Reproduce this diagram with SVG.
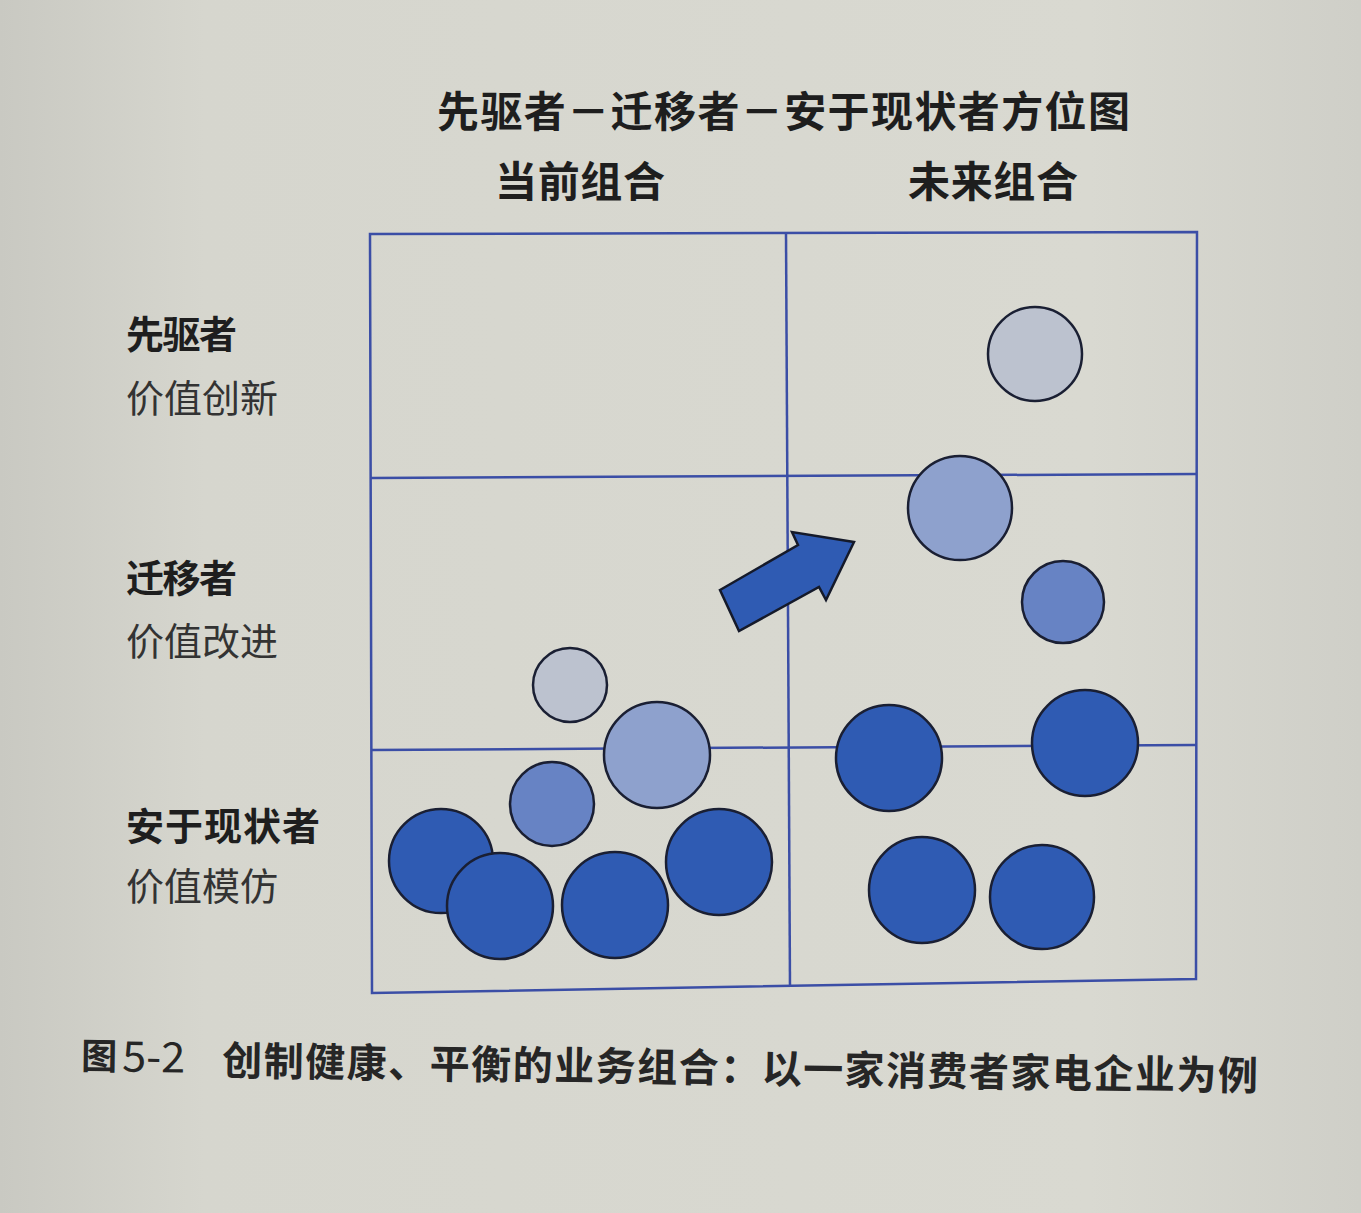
<svg xmlns="http://www.w3.org/2000/svg" width="1361" height="1213" viewBox="0 0 1361 1213">
<defs>
<linearGradient id="bg" x1="0" y1="0" x2="1" y2="0">
<stop offset="0" stop-color="#c9c9c2"/>
<stop offset="0.15" stop-color="#d6d6ce"/>
<stop offset="0.8" stop-color="#d9d9d1"/>
<stop offset="1" stop-color="#cfcfc8"/>
</linearGradient>
<style>
.grid{fill:none;stroke:#3b4ea6;stroke-width:2.5}
.c{stroke:#1a1f33;stroke-width:2.5}
.dark{fill:#2f5bb3}
.mid{fill:#6783c4}
.light{fill:#8ea1cd}
.gray{fill:#bcc2cf}
.t{font-family:"Noto Sans CJK SC","Noto Sans",sans-serif;fill:#1e1e1e}
.h{font-size:42px;font-weight:bold}
.lb{font-size:38px;font-weight:bold}
.lr{font-size:38px;font-weight:normal;fill:#333}
.cap{font-size:40px;font-weight:bold;fill:#262626}
</style>
</defs>
<rect x="0" y="0" width="1361" height="1213" fill="url(#bg)"/>
<g id="titles">
<text class="t h" x="437" y="127" textLength="693" lengthAdjust="spacing">先驱者－迁移者－安于现状者方位图</text>
<text class="t h" x="495" y="197" textLength="170" lengthAdjust="spacing">当前组合</text>
<text class="t h" x="908" y="197" textLength="170" lengthAdjust="spacing">未来组合</text>
</g>
<g id="row-labels">
<text class="t lb" x="126" y="348" textLength="111" lengthAdjust="spacing">先驱者</text>
<text class="t lr" x="126" y="412" textLength="152" lengthAdjust="spacing">价值创新</text>
<text class="t lb" x="126" y="592" textLength="111" lengthAdjust="spacing">迁移者</text>
<text class="t lr" x="126" y="655" textLength="152" lengthAdjust="spacing">价值改进</text>
<text class="t lb" x="126" y="840" textLength="194" lengthAdjust="spacing">安于现状者</text>
<text class="t lr" x="126" y="900" textLength="152" lengthAdjust="spacing">价值模仿</text>
</g>
<g id="grid">
<polygon class="grid" points="370,234 1197,232 1196,979 372,993"/>
<line class="grid" x1="786" y1="233" x2="790" y2="987"/>
<line class="grid" x1="371" y1="478" x2="1197" y2="474"/>
<line class="grid" x1="371" y1="750" x2="1196" y2="745"/>
</g>
<g id="current">
<circle class="c gray" cx="570" cy="685" r="37"/>
<circle class="c light" cx="657" cy="755" r="53"/>
<circle class="c mid" cx="552" cy="804" r="42"/>
<circle class="c dark" cx="441" cy="861" r="52"/>
<circle class="c dark" cx="719" cy="862" r="53"/>
<circle class="c dark" cx="500" cy="906" r="53"/>
<circle class="c dark" cx="615" cy="905" r="53"/>
</g>
<g id="future">
<circle class="c gray" cx="1035" cy="354" r="47"/>
<circle class="c light" cx="960" cy="508" r="52"/>
<circle class="c mid" cx="1063" cy="602" r="41"/>
<circle class="c dark" cx="889" cy="758" r="53"/>
<circle class="c dark" cx="1085" cy="743" r="53"/>
<circle class="c dark" cx="922" cy="890" r="53"/>
<circle class="c dark" cx="1042" cy="897" r="52"/>
</g>
<g id="connectors">
<polygon points="720,590 798,545 792,532 854,542 826,600 819,587 739,631" fill="#2f5bb3" stroke="#151a2a" stroke-width="2.5" stroke-linejoin="miter"/>
</g>
<g id="caption" transform="rotate(0.85 82 1070)">
<text class="t cap" x="81" y="1069" style="font-size:36px">图</text>
<text class="t cap" x="122" y="1071" style="font-weight:normal;font-size:42px" textLength="63" lengthAdjust="spacingAndGlyphs">5-2</text>
<text class="t cap" x="222" y="1073" textLength="1036" lengthAdjust="spacing">创制健康、平衡的业务组合：以一家消费者家电企业为例</text>
</g>
</svg>
